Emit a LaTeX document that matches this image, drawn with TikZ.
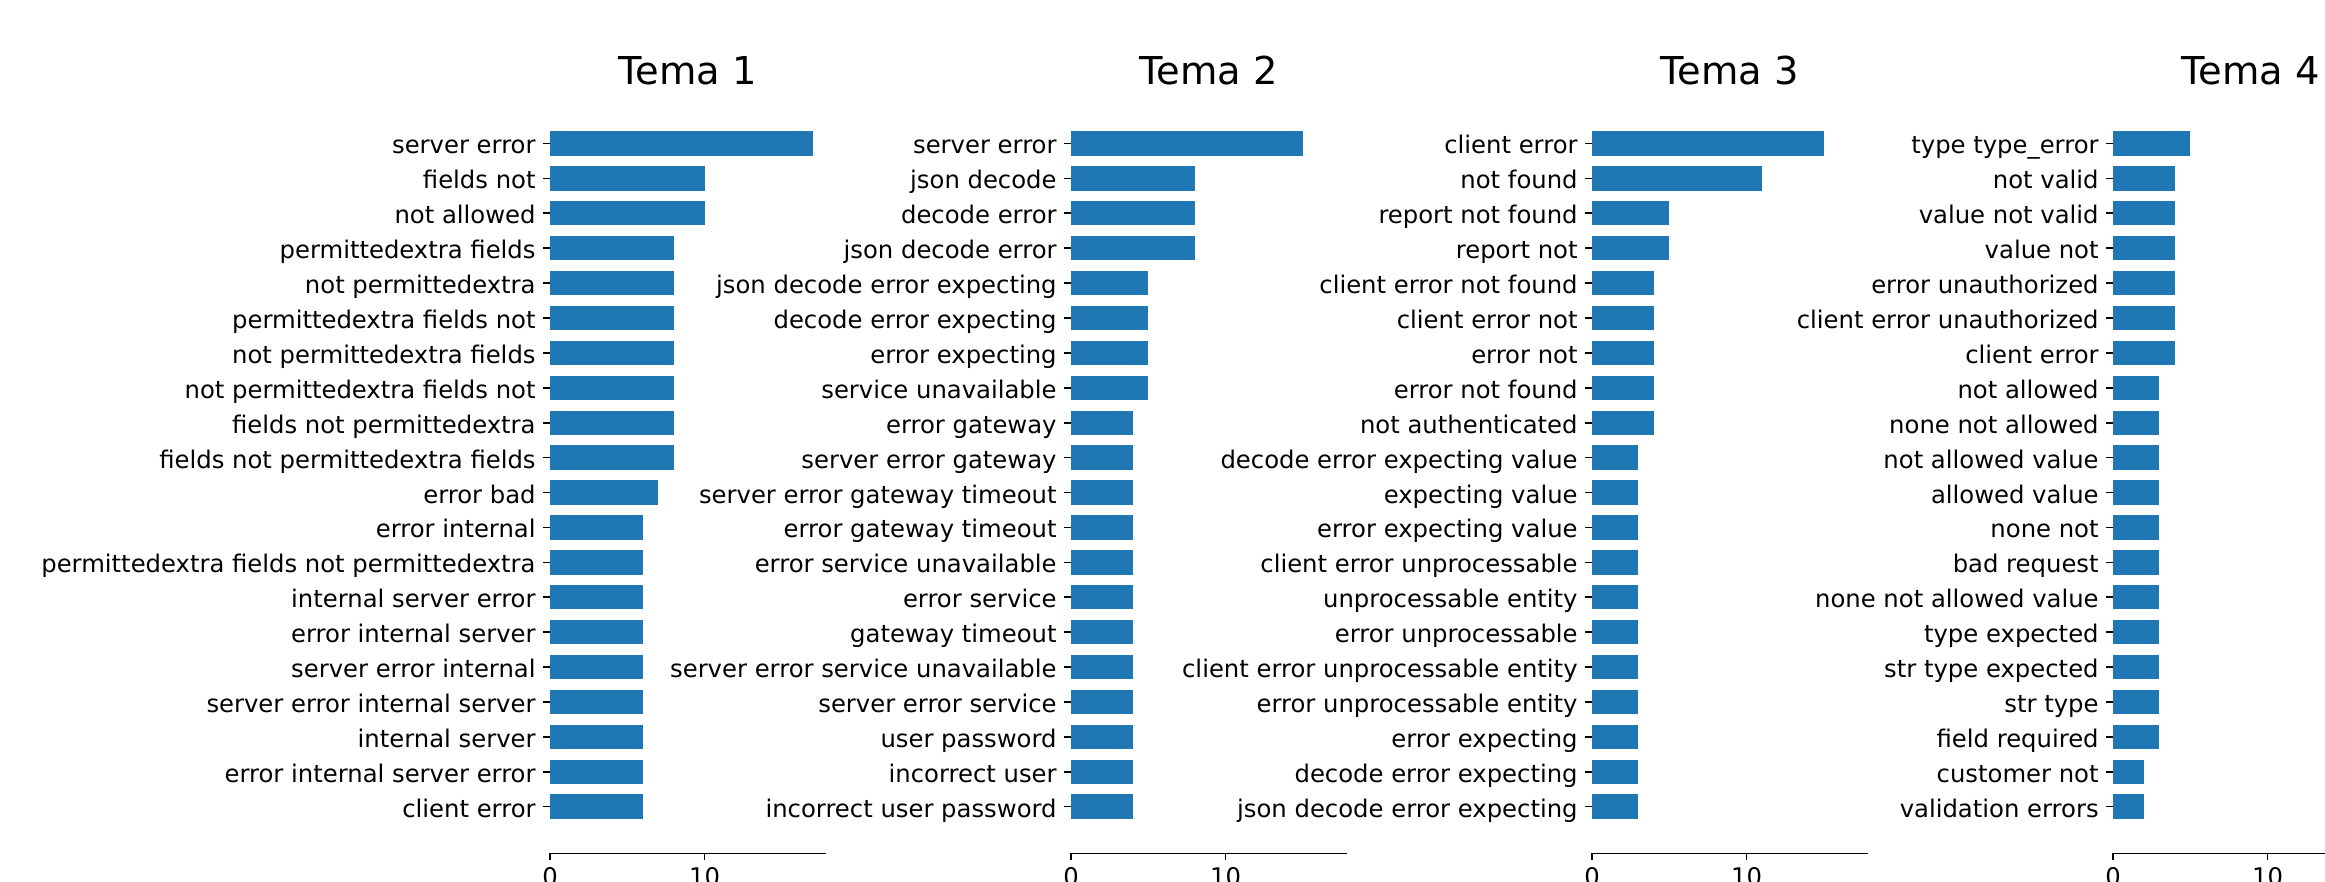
\documentclass[tikz,border=0pt]{standalone}
\usepackage{fontspec}
\setmainfont{DejaVu Sans}
\definecolor{barblue}{HTML}{1F77B4}
\tikzset{
  bar/.style={fill=barblue},
  ylab/.style={anchor=base east, inner sep=0pt, font=\fontsize{12.15}{14}\selectfont},
  xlab/.style={anchor=north, inner sep=0pt, font=\fontsize{12.15}{14}\selectfont},
  ttl/.style={anchor=base, inner sep=0pt, font=\fontsize{19.2}{22}\selectfont},
  tk/.style={line width=0.8pt, black},
}
\newcommand\drawpanel[4]{%
  \node[ttl] (t#3) at (#1+138,85) {#2};
  \foreach \v/\t [count=\i from 0] in {#4} {
    \pgfmathsetmacro\yc{143.5+34.9*\i}
    \fill[bar] (#1,\yc-12.2) rectangle (#1+15.45*\v,\yc+12.2);
    \draw[tk] (#1,\yc) -- (#1-7,\yc);
    \node[ylab] (l#3-\i) at (#1-14,\yc+10.5) {\t};
  }
  \draw[tk] (#1,853.3) -- (#1+275.8,853.3);
  \draw[tk] (#1,853.3) -- (#1,860.3);
  \draw[tk] (#1+154.5,853.3) -- (#1+154.5,860.3);
  \node[xlab] (x#3a) at (#1,867.5) {0};
  \node[xlab] (x#3b) at (#1+154.5,867.5) {10};
}
\begin{document}
\begin{tikzpicture}[x=0.5pt,y=-0.5pt]
\useasboundingbox (0,0) rectangle (2325,882);
\clip (0,0) rectangle (2325,882);
\drawpanel{550}{Tema 1}{a}{17/server error, 10/fields not, 10/not allowed, 8/permittedextra fields, 8/not permittedextra, 8/permittedextra fields not, 8/not permittedextra fields, 8/not permittedextra fields not, 8/fields not permittedextra, 8/fields not permittedextra fields, 7/error bad, 6/error internal, 6/permittedextra fields not permittedextra, 6/internal server error, 6/error internal server, 6/server error internal, 6/server error internal server, 6/internal server, 6/error internal server error, 6/client error}
\drawpanel{1071}{Tema 2}{b}{15/server error, 8/json decode, 8/decode error, 8/json decode error, 5/json decode error expecting, 5/decode error expecting, 5/error expecting, 5/service unavailable, 4/error gateway, 4/server error gateway, 4/server error gateway timeout, 4/error gateway timeout, 4/error service unavailable, 4/error service, 4/gateway timeout, 4/server error service unavailable, 4/server error service, 4/user password, 4/incorrect user, 4/incorrect user password}
\drawpanel{1592}{Tema 3}{c}{15/client error, 11/not found, 5/report not found, 5/report not, 4/client error not found, 4/client error not, 4/error not, 4/error not found, 4/not authenticated, 3/decode error expecting value, 3/expecting value, 3/error expecting value, 3/client error unprocessable, 3/unprocessable entity, 3/error unprocessable, 3/client error unprocessable entity, 3/error unprocessable entity, 3/error expecting, 3/decode error expecting, 3/json decode error expecting}
\drawpanel{2113}{Tema 4}{d}{5/type type\_error, 4/not valid, 4/value not valid, 4/value not, 4/error unauthorized, 4/client error unauthorized, 4/client error, 3/not allowed, 3/none not allowed, 3/not allowed value, 3/allowed value, 3/none not, 3/bad request, 3/none not allowed value, 3/type expected, 3/str type expected, 3/str type, 3/field required, 2/customer not, 2/validation errors}
\end{tikzpicture}
\end{document}
